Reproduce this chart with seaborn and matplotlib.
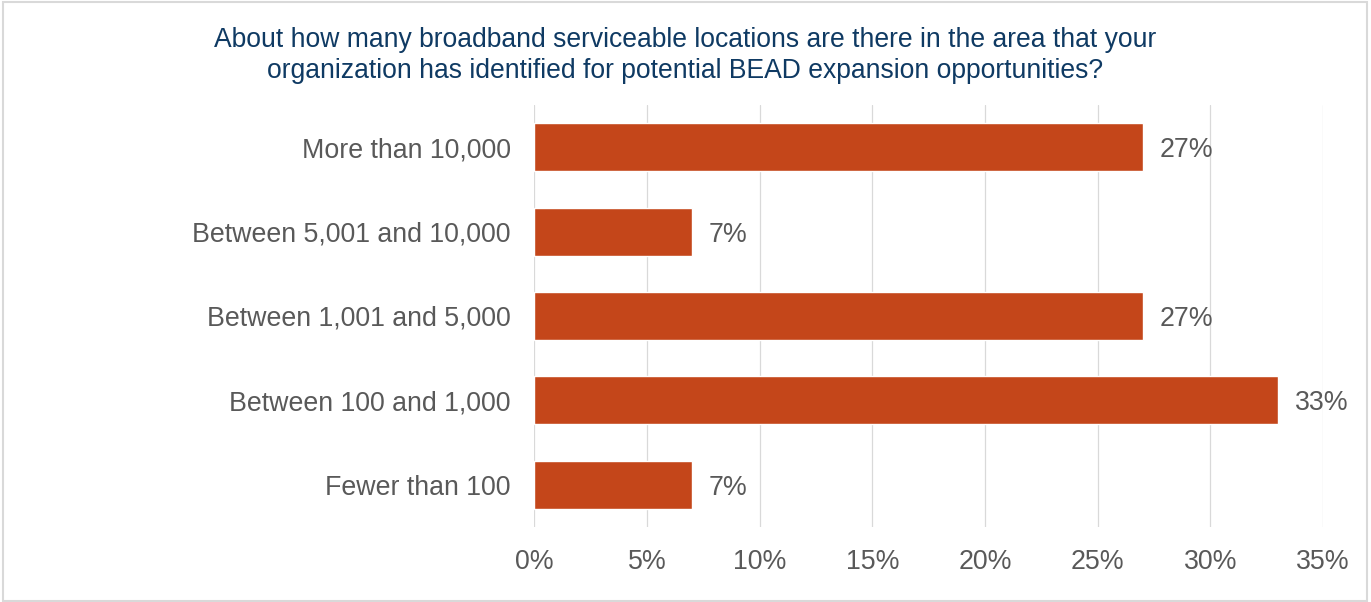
import matplotlib
matplotlib.use("Agg")
import matplotlib.pyplot as plt
import seaborn as sns
import pandas as pd
from matplotlib.patches import Rectangle

categories = ["More than 10,000", "Between 5,001 and 10,000", "Between 1,001 and 5,000",
              "Between 100 and 1,000", "Fewer than 100"]
values = [27, 7, 27, 33, 7]
x_ticks = [0, 5, 10, 15, 20, 25, 30, 35]
title = ("About how many broadband serviceable locations are there in the area that your\n"
         "organization has identified for potential BEAD expansion opportunities?")

sns.set_theme(style="white")
plt.rcParams["font.family"] = ["Liberation Sans", "DejaVu Sans"]

df = pd.DataFrame({"category": categories, "value": values})

fig = plt.figure(figsize=(13.71, 6.02), dpi=100)
ax = fig.add_axes([0.3897, 0.1246, 0.5753, 0.7010])

sns.barplot(data=df, x="value", y="category", orient="h", color="#C4461A",
            width=0.57, saturation=1, ax=ax, zorder=3)

ax.set_xlim(0, 35)
ax.set_ylim(4.5, -0.5)
ax.set_xticks(x_ticks)
ax.set_xticklabels([f"{t}%" for t in x_ticks])
ax.set_xlabel("")
ax.set_ylabel("")
ax.grid(axis="x", color="#D9D9D9", linewidth=0.9, zorder=0)
ax.grid(axis="y", visible=False)
for s in ax.spines.values():
    s.set_visible(False)
ax.tick_params(axis="both", length=0, labelsize=19.3, labelcolor="#595959")
ax.tick_params(axis="y", pad=17)
ax.tick_params(axis="x", pad=16)

for cont in ax.containers:
    texts = ax.bar_label(cont, labels=[f"{v}%" for v in values], padding=12,
                         fontsize=19.3, color="#595959")
    for t in texts:
        t.set_verticalalignment("center_baseline")

fig.text(0.5, 0.908, title, ha="center", va="center", fontsize=19.1,
         color="#0F3A63", linespacing=1.27)

fig.patches.append(Rectangle((0.0025, 0.002), 0.9945, 0.995, transform=fig.transFigure,
                             fill=False, edgecolor="#D9D9D9", linewidth=1.5))

fig.savefig("out.png", dpi=100)
